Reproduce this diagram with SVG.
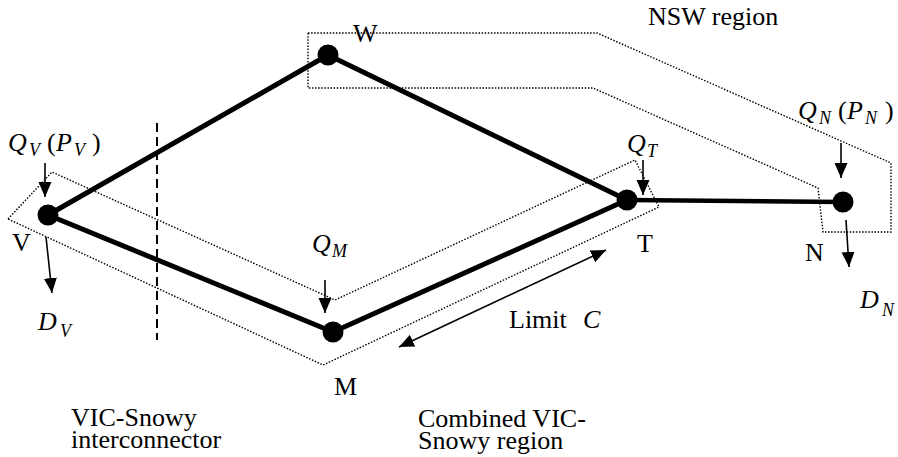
<svg xmlns="http://www.w3.org/2000/svg" width="898" height="457" viewBox="0 0 898 457">
<style>
text{font-family:"Liberation Serif","Times New Roman",serif;font-size:26px;fill:#000}
.i{font-style:italic}
.s{font-size:18px;font-style:italic}
.thick{stroke:#000;stroke-width:5;fill:none;stroke-linecap:round}
.thin{stroke:#000;stroke-width:1.6;fill:none}
.dot{stroke:#000;stroke-width:1.4;fill:none;stroke-dasharray:1.5 1.6}
.dash{stroke:#000;stroke-width:2;fill:none;stroke-dasharray:9 5}
</style>
<defs>
<marker id="ah" markerUnits="userSpaceOnUse" markerWidth="16" markerHeight="14" refX="15" refY="6.5" orient="auto-start-reverse">
<path d="M0,0 L15,6.5 L0,13 z" fill="#000"/>
</marker>
</defs>
<g id="regions">
<polygon class="dot" points="308,33 597,33 891,163 891,232 823,232 818,188 593,88 308,88"/>
<polygon class="dot" points="8,219 52,172 335,300 635,160 659,207 323,365"/>
<line class="dash" x1="157" y1="123" x2="157" y2="340"/>
</g>
<g id="connectors">
<line class="thick" x1="48" y1="215" x2="328" y2="55"/>
<line class="thick" x1="328" y1="55" x2="627" y2="200"/>
<line class="thick" x1="48" y1="215" x2="333" y2="332"/>
<line class="thick" x1="333" y1="332" x2="627" y2="200"/>
<line class="thick" x1="627" y1="200" x2="843" y2="202" style="stroke-width:4.5"/>
<line class="thin" x1="45" y1="163" x2="45" y2="197" marker-end="url(#ah)"/>
<line class="thin" x1="46" y1="237" x2="52" y2="293" marker-end="url(#ah)"/>
<line class="thin" x1="325" y1="280" x2="325" y2="313" marker-end="url(#ah)"/>
<line class="thin" x1="643" y1="160" x2="643" y2="195" marker-end="url(#ah)"/>
<line class="thin" x1="841" y1="143" x2="841" y2="178" marker-end="url(#ah)"/>
<line class="thin" x1="846" y1="220" x2="849" y2="267" marker-end="url(#ah)"/>
<line class="thin" x1="399" y1="347" x2="606" y2="250" marker-start="url(#ah)" marker-end="url(#ah)"/>
</g>
<g id="node-V"><circle cx="48" cy="215" r="10.5"/><text x="12" y="251">V</text></g>
<g id="node-W"><circle cx="328" cy="55" r="10.5"/><text x="353" y="42">W</text></g>
<g id="node-T"><circle cx="627" cy="200" r="10.5"/><text x="637" y="252">T</text></g>
<g id="node-N"><circle cx="843" cy="202" r="10.5"/><text x="805" y="261">N</text></g>
<g id="node-M"><circle cx="333" cy="332" r="10.5"/><text x="334" y="395">M</text></g>
<g id="labels">
<text x="8" y="151"><tspan class="i">Q</tspan><tspan class="s" x="29" y="156">V</tspan><tspan x="47" y="151">(</tspan><tspan class="i" x="56">P</tspan><tspan class="s" x="74" y="156">V</tspan><tspan x="92" y="151">)</tspan></text>
<text x="38" y="330"><tspan class="i">D</tspan><tspan class="s" x="60" y="337">V</tspan></text>
<text x="312" y="252"><tspan class="i">Q</tspan><tspan class="s" x="332" y="257">M</tspan></text>
<text x="627" y="152"><tspan class="i">Q</tspan><tspan class="s" x="647" y="157">T</tspan></text>
<text x="798" y="119"><tspan class="i">Q</tspan><tspan class="s" x="819" y="124">N</tspan><tspan x="838" y="119">(</tspan><tspan class="i" x="847">P</tspan><tspan class="s" x="865" y="124">N</tspan><tspan x="885" y="119">)</tspan></text>
<text x="860" y="308"><tspan class="i">D</tspan><tspan class="s" x="882" y="316">N</tspan></text>
<text x="509" y="328">Limit <tspan class="i" x="583">C</tspan></text>
<text x="648" y="25">NSW region</text>
<text x="71" y="426">VIC-Snowy</text>
<text x="71" y="448">interconnector</text>
<text x="418" y="427">Combined VIC-</text>
<text x="418" y="449">Snowy region</text>
</g>
</svg>
